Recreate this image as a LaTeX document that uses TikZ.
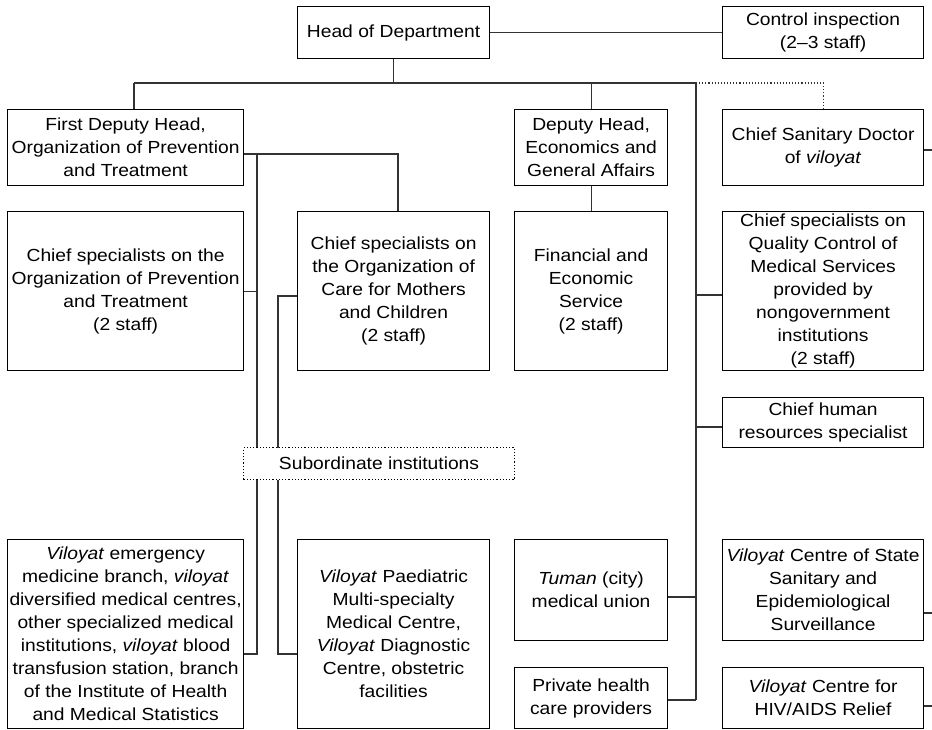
\documentclass[tikz,border=0pt]{standalone}
\usepackage{fontspec}
\setmainfont[FakeStretch=1.1]{Liberation Sans}
\usetikzlibrary{calc}
\newcommand\boxfont{\fontsize{17.5}{23}\selectfont}
\tikzset{
  box/.style={draw, line width=1.2pt, inner sep=0pt, align=center,
    anchor=north west, font=\boxfont},
  link/.style={line width=1.2pt, draw=black!80},
  dotlink/.style={line width=1.1pt, draw=black!80, dotted},
}
\begin{document}
\begin{tikzpicture}[x=1pt,y=-1pt]
\useasboundingbox (0,0) rectangle (932,729);

% ---- boxes: top row
\node[box, minimum width=192pt, minimum height=52pt] (head) at (297,6) {Head of Department};
\node[box, minimum width=201pt, minimum height=52pt] (ctrl) at (722,6) {Control inspection\\(2--3 staff)};

% ---- deputies
\node[box, minimum width=236pt, minimum height=76pt] (fdh) at (7,109) {First Deputy Head,\\Organization of Prevention\\and Treatment};
\node[box, minimum width=153pt, minimum height=76pt] (dep) at (514,109) {Deputy Head,\\Economics and\\General Affairs};
\node[box, minimum width=201pt, minimum height=76pt] (san) at (722,109) {Chief Sanitary Doctor\\of \textit{viloyat}};

% ---- specialists
\node[box, minimum width=236pt, minimum height=159pt] (spec) at (7,211) {Chief specialists on the\\Organization of Prevention\\and Treatment\\(2 staff)};
\node[box, minimum width=192pt, minimum height=159pt] (moth) at (297,211) {Chief specialists on\\the Organization of\\Care for Mothers\\and Children\\(2 staff)};
\node[box, minimum width=153pt, minimum height=159pt] (fin) at (514,211) {Financial and\\Economic\\Service\\(2 staff)};
\node[box, minimum width=201pt, minimum height=159pt] (qual) at (722,211) {Chief specialists on\\Quality Control of\\Medical Services\\provided by\\nongovernment\\institutions\\(2 staff)};
\node[box, minimum width=201pt, minimum height=50pt] (hr) at (722,397) {Chief human\\resources specialist};

% ---- institutions
\node[box, minimum width=236pt, minimum height=189pt] (emer) at (7,539) {\textit{Viloyat} emergency\\medicine branch, \textit{viloyat}\\diversified medical centres,\\other specialized medical\\institutions, \textit{viloyat} blood\\transfusion station, branch\\of the Institute of Health\\and Medical Statistics};
\node[box, minimum width=192pt, minimum height=189pt] (paed) at (297,539) {\textit{Viloyat} Paediatric\\Multi-specialty\\Medical Centre,\\\textit{Viloyat} Diagnostic\\Centre, obstetric\\facilities};
\node[box, minimum width=153pt, minimum height=101pt] (tuman) at (514,539) {\textit{Tuman} (city)\\medical union};
\node[box, minimum width=153pt, minimum height=61pt] (priv) at (514,667) {Private health\\care providers};
\node[box, minimum width=201pt, minimum height=101pt] (state) at (722,539) {\textit{Viloyat} Centre of State\\Sanitary and\\Epidemiological\\Surveillance};
\node[box, minimum width=201pt, minimum height=61pt] (hiv) at (722,667) {\textit{Viloyat} Centre for\\HIV/AIDS Relief};

% ---- junction points
\coordinate (busL) at (134,83);
\coordinate (busR) at (696,83);
\coordinate (trunkA) at (257,154);
\coordinate (trunkB) at (278,296);
\coordinate (low) at (0,654);
\coordinate (edge) at (932,0);

% ---- connectors
\draw[link] (head) -- (ctrl);
\draw[link] (head.south) -- (head.south |- busL);
\draw[link] (busL) -- (busR);
\draw[link] (busL) -- (busL |- fdh.north);
\draw[link] (dep.north) -- (dep.north |- busL);
\draw[dotlink] (busR) -| (san.north);
\draw[link] (busR) -- (busR |- 0,700);
\draw[link] (dep.south) -- (fin.north);
\draw[link] (qual.west |- 0,295) -- (busR |- 0,295);
\draw[link] (hr.west |- 0,427) -- (busR |- 0,427);
\draw[link] (tuman.east |- 0,597) -- (busR |- 0,597);
\draw[link] (priv.east |- 0,700) -- (busR |- 0,700);

\draw[link] (fdh.east |- trunkA) -| (moth.north -| 398,0);
\draw[link] (trunkA) -- (trunkA |- low) -- (emer.east |- low);
\draw[link] (spec.east) -- (spec.east -| trunkA);
\draw[link] (moth.west |- trunkB) -- (trunkB) -- (trunkB |- low) -- (paed.west |- low);

\draw[link] (san.east |- 0,150) -- (edge |- 0,150);
\draw[link] (state.east |- 0,613) -- (edge |- 0,613);
\draw[link] (hiv.east |- 0,706) -- (edge |- 0,706);

% ---- dotted label box over the trunks
\node[box, dotted, line width=1.1pt, fill=white, minimum width=271pt, minimum height=32pt] (sub) at (243,447) {Subordinate institutions};
\end{tikzpicture}
\end{document}
